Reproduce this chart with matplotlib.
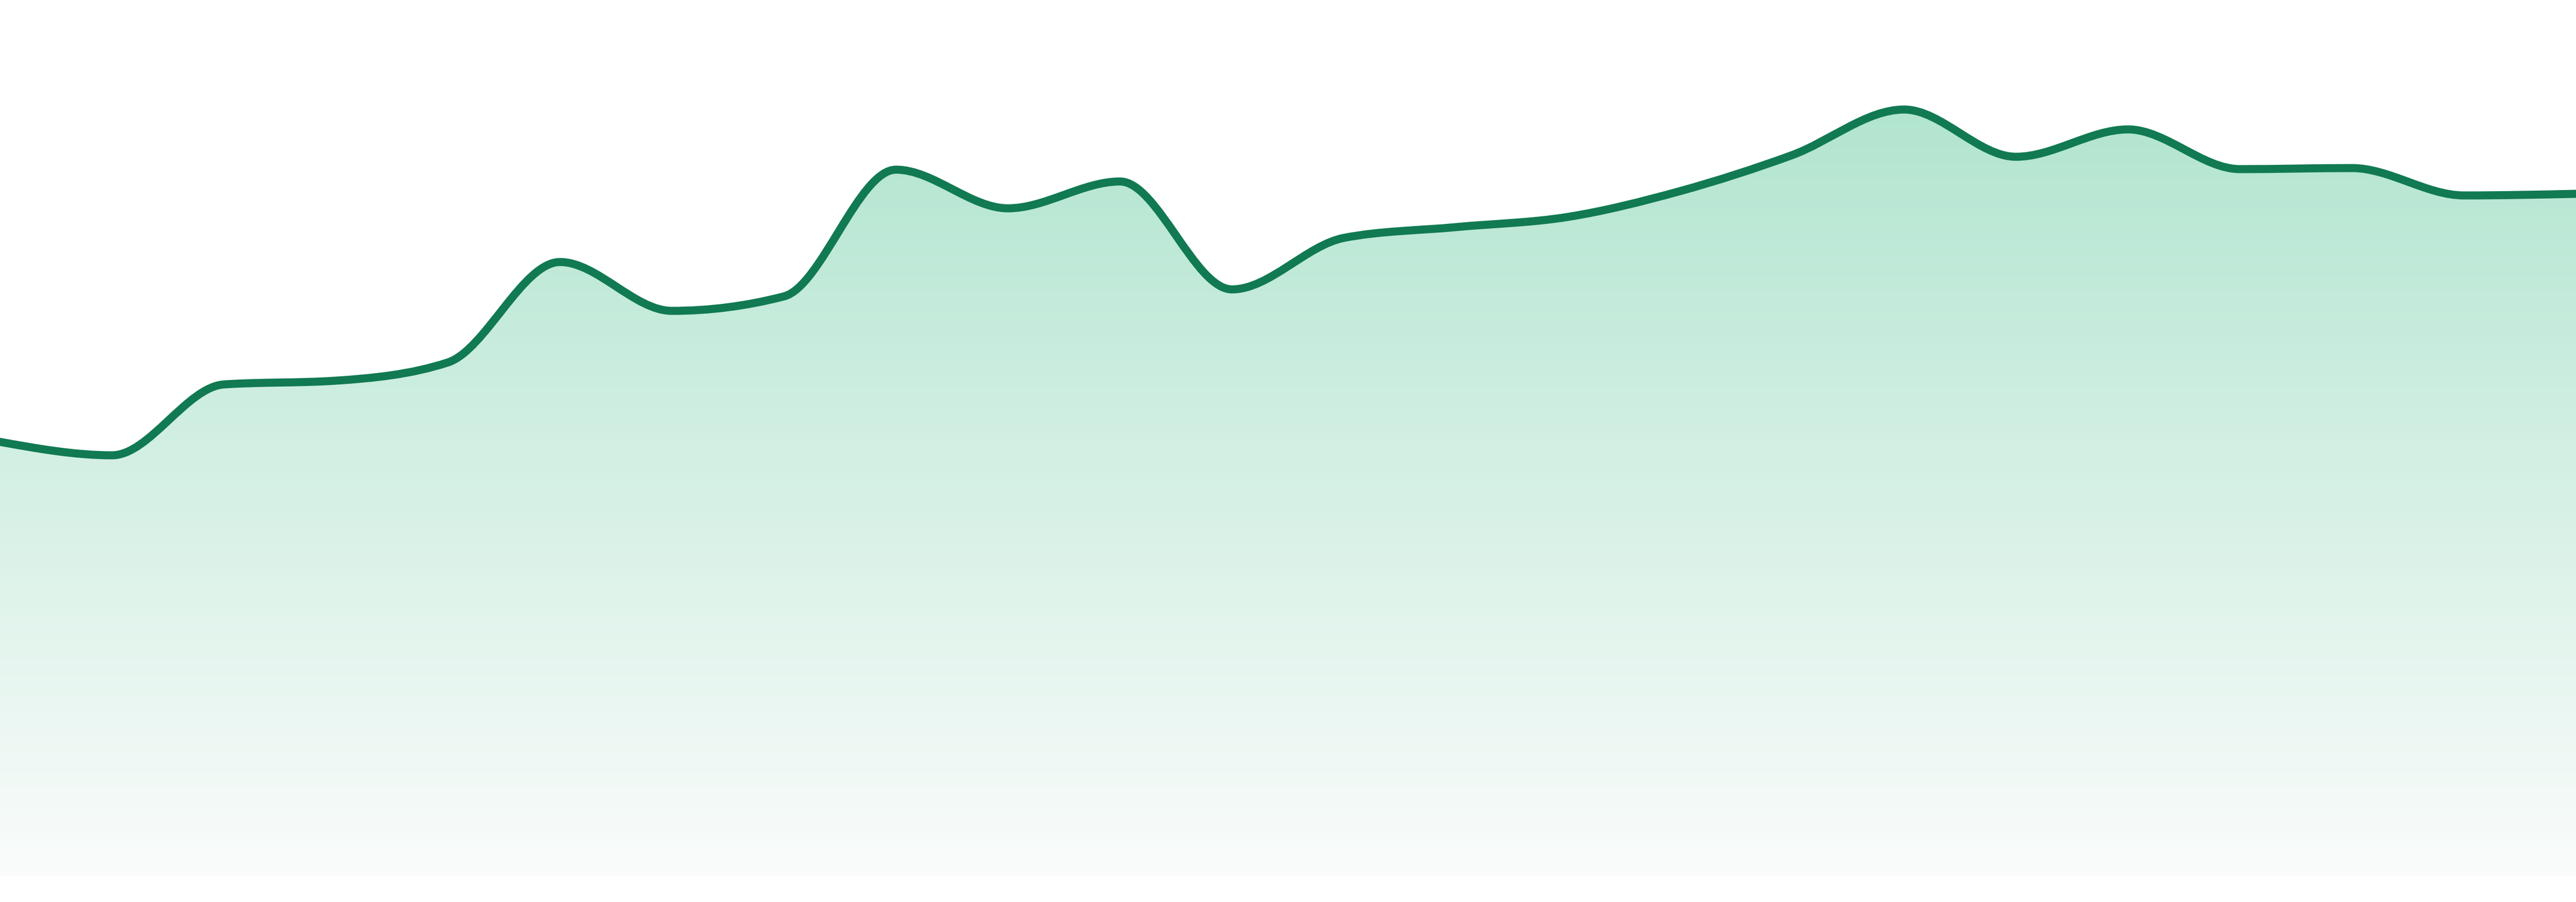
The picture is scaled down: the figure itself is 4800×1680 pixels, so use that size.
import numpy as np
import matplotlib
matplotlib.use('Agg')
import matplotlib.pyplot as plt
from matplotlib.path import Path
from matplotlib.patches import PathPatch
from matplotlib.colors import LinearSegmentedColormap

# values, one per day
days = list(range(24))
values = [80.9, 78.4, 91.6, 92.3, 95.7, 114.4, 105.3, 108.0,
          131.6, 124.4, 129.4, 109.3, 118.9, 120.9, 122.8, 127.6,
          134.3, 142.8, 134.0, 139.1, 131.7, 131.9, 126.8, 127.1]

line_color = '#117a52'
top_color = (178 / 255, 229 / 255, 208 / 255)
bottom_color = (250 / 255, 252 / 255, 251 / 255)


def monotone_slopes(x, y):
    # same tangents as d3.curveMonotoneX
    n = len(x)
    t = np.zeros(n)
    for i in range(1, n - 1):
        h0 = x[i] - x[i - 1]
        h1 = x[i + 1] - x[i]
        s0 = (y[i] - y[i - 1]) / h0
        s1 = (y[i + 1] - y[i]) / h1
        p = (s0 * h1 + s1 * h0) / (h0 + h1)
        t[i] = (np.sign(s0) + np.sign(s1)) * min(abs(s0), abs(s1), 0.5 * abs(p))
    h = x[1] - x[0]
    t[0] = (3 * (y[1] - y[0]) / h - t[1]) / 2
    h = x[-1] - x[-2]
    t[-1] = (3 * (y[-1] - y[-2]) / h - t[-2]) / 2
    return t


def curve_path(x, y):
    t = monotone_slopes(x, y)
    verts = [(x[0], y[0])]
    codes = [Path.MOVETO]
    for i in range(len(x) - 1):
        dx = (x[i + 1] - x[i]) / 3
        verts += [(x[i] + dx, y[i] + dx * t[i]),
                  (x[i + 1] - dx, y[i + 1] - dx * t[i + 1]),
                  (x[i + 1], y[i + 1])]
        codes += [Path.CURVE4] * 3
    return verts, codes


x = np.array(days, dtype=float)
y = np.array(values, dtype=float)

fig = plt.figure(figsize=(16, 5.6), dpi=300)
ax = fig.add_axes([0, 48 / 1680, 1, 1632 / 1680])
ax.axis('off')

verts, codes = curve_path(x, y)

# area under the curve, gradient fill
area_verts = verts + [(x[-1], 0), (x[0], 0), (x[0], y[0])]
area_codes = codes + [Path.LINETO, Path.LINETO, Path.CLOSEPOLY]
area = PathPatch(Path(area_verts, area_codes), facecolor='none', edgecolor='none',
                 transform=ax.transData)
ax.add_patch(area)

cmap = LinearSegmentedColormap.from_list('fade', [bottom_color, top_color])
grad = np.linspace(0, 1, 256).reshape(-1, 1)
im = ax.imshow(grad, cmap=cmap, aspect='auto', origin='lower',
               extent=[x[0], x[-1], 0, y.max()], interpolation='bilinear')
im.set_clip_path(area)

line = PathPatch(Path(verts, codes), facecolor='none', edgecolor=line_color,
                 linewidth=3.6, capstyle='round', joinstyle='round',
                 transform=ax.transData)
ax.add_patch(line)

ax.set_xlim(x[0], x[-1])
ax.set_ylim(0, 163.2)

fig.savefig('out.png', dpi=300, facecolor='white')
